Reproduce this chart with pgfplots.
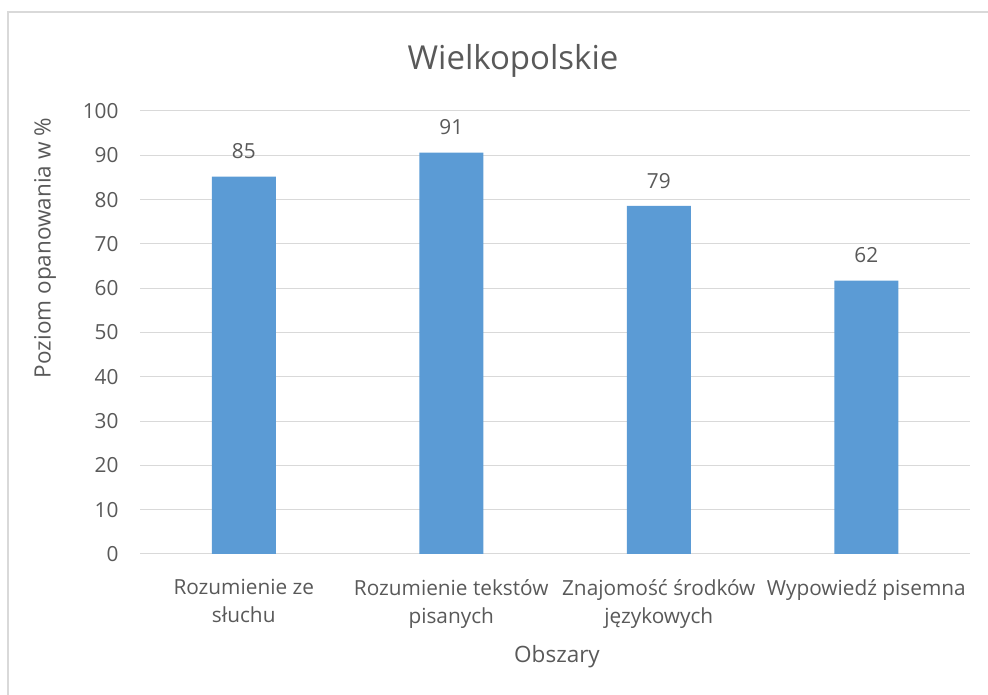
\documentclass[border=0pt]{standalone}
\usepackage{fontspec}
\setmainfont{Open Sans}
\usepackage{pgfplots}
\pgfplotsset{compat=1.18}
\definecolor{barc}{HTML}{5B9BD5}
\definecolor{gridc}{HTML}{D9D9D9}
\definecolor{txt}{HTML}{595959}
\begin{document}
\begin{tikzpicture}[x=1bp,y=1bp]
\path[use as bounding box] (0,0) rectangle (988,695);
\begin{scope}
\clip (0,0) rectangle (988,695);
\draw[gridc, line width=1.3bp] (8,-10) -- (8,683) -- (1000,683);
\end{scope}
\begin{axis}[
  at={(140bp,141bp)}, anchor=south west,
  scale only axis, width=830bp, height=443bp,
  ymin=0, ymax=100, ytick={0,10,...,100},
  xmin=-0.5, xmax=3.5,
  xtick={0,1,2,3},
  xticklabels={{Rozumienie ze\\słuchu},{Rozumienie tekstów\\pisanych},{Znajomość środków\\językowych},{Wypowiedź pisemna}},
  xticklabel style={align=center, font=\fontsize{20.8bp}{28bp}\selectfont, text=txt, yshift=-22bp},
  yticklabel style={font=\fontsize{20.8bp}{25bp}\selectfont, text=txt, xshift=-18bp},
  /pgf/number format/assume math mode=true,
  axis line style={draw=none},
  major tick length=0pt,
  ymajorgrids, grid style={gridc, line width=1bp},
  ybar, bar width=64bp,
  nodes near coords,
  every node near coord/.append style={font=\fontsize{20.8bp}{25bp}\selectfont, text=txt, yshift=14bp,
    /pgf/number format/fixed, /pgf/number format/precision=0},
  clip=false,
]
\addplot[fill=barc, draw=none] coordinates {(0,85.2) (1,90.6) (2,78.6) (3,61.7)};
\end{axis}
\node[font=\fontsize{33bp}{40bp}\selectfont, text=txt] at (513,634) {Wielkopolskie};
\node[font=\fontsize{22.5bp}{27bp}\selectfont, text=txt, rotate=90] at (45,447) {Poziom opanowania w \%};
\node[font=\fontsize{22.5bp}{27bp}\selectfont, text=txt] at (557,38) {Obszary};
\end{tikzpicture}
\end{document}
